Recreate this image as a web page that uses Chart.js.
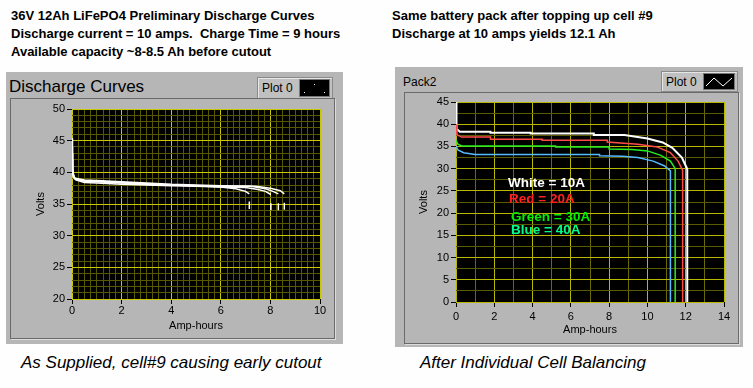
<!DOCTYPE html>
<html>
<head>
<meta charset="utf-8">
<script src="https://cdn.jsdelivr.net/npm/chart.js@4/dist/chart.umd.min.js"></script>
<style>
  body { margin: 0; background: #fdfefd; font-family: "Liberation Sans", Arial, sans-serif; }
  #page { position: relative; width: 753px; height: 388px; overflow: hidden; }
  .note { position: absolute; font-weight: bold; font-size: 13px; line-height: 18px; color: #000; white-space: nowrap; }
  .caption { position: absolute; font-style: italic; font-size: 17px; color: #000; white-space: nowrap; }
  .panel { position: absolute; background: #b6b6b6; }
  .frame { position: absolute; border: 1px solid #6a6a6a; box-shadow: 1px 1px 0 #dcdcdc; }
  .frame canvas { position: absolute; left: 0; top: 0; }
  .legend { position: absolute; background: #c0c0c0; border: 1px solid #8a8a8a; box-shadow: inset 1px 1px 0 #e6e6e6; font-size: 12px; }
  .legend span { position: absolute; left: 4px; top: 3px; }
  .swatch { position: absolute; background: #000; border: 1px solid #777; }
  .tag { position: absolute; font-weight: bold; font-size: 13.5px; white-space: nowrap; }
</style>
</head>
<body>
<div id="page">
  <div class="note" style="left:11px; top:7px;">36V 12Ah LiFePO4 Preliminary Discharge Curves<br>Discharge current = 10 amps.&nbsp; Charge Time = 9 hours<br>Available capacity ~8-8.5 Ah before cutout</div>
  <div class="note" style="left:392px; top:7px;">Same battery pack after topping up cell #9<br>Discharge at 10 amps yields 12.1 Ah</div>

  <!-- left panel -->
  <div class="panel" style="left:6px; top:72px; width:337px; height:272px;"></div>
  <div style="position:absolute; left:9px; top:77px; font-size:17px;">Discharge Curves</div>
  <div class="legend" style="left:257px; top:77px; width:74px; height:20px;">
    <span>Plot 0</span>
    <div class="swatch" style="left:41px; top:1px; width:29px; height:16px;">
      <svg width="29" height="16"><rect x="4" y="12" width="1" height="1" fill="#fff"/><rect x="14" y="4" width="1" height="1" fill="#fff"/><rect x="24" y="12" width="1" height="1" fill="#fff"/></svg>
    </div>
  </div>
  <div class="frame" style="left:10px; top:98px; width:323px; height:239px;">
    <canvas id="leftChart" width="323" height="239"></canvas>
  </div>

  <!-- right panel -->
  <div class="panel" style="left:395px; top:67px; width:348px; height:280px;"></div>
  <div style="position:absolute; left:403px; top:75px; font-size:12px;">Pack2</div>
  <div class="legend" style="left:661px; top:71px; width:75px; height:19px;">
    <span>Plot 0</span>
    <div class="swatch" style="left:41px; top:1px; width:30px; height:15px;">
      <svg width="30" height="15"><polyline points="2,12 10,4 19,12 28,4" fill="none" stroke="#fff" stroke-width="1"/></svg>
    </div>
  </div>
  <div class="frame" style="left:404px; top:92px; width:333px; height:250px;">
    <canvas id="rightChart" width="333" height="250"></canvas>
  </div>
  <div class="tag" style="left:508px; top:175px; color:#ffffff;">White = 10A</div>
  <div class="tag" style="left:509px; top:191px; color:#ff2020;">Red = 20A</div>
  <div class="tag" style="left:511px; top:209px; color:#00ee00;">Green = 30A</div>
  <div class="tag" style="left:511px; top:222px; color:#00ff88;">Blue = 40A</div>

  <div class="caption" style="left:21px; top:353px;">As Supplied, cell#9 causing early cutout</div>
  <div class="caption" style="left:420px; top:353px;">After Individual Cell Balancing</div>
</div>

<script>
// ---- left chart data (as supplied) ----
const runAh1 = [0, 0.02, 0.05, 0.15, 0.5, 1, 2, 3, 4, 5, 6, 6.6, 7, 7.15];
const runV1  = [45.4, 41, 39.5, 38.9, 38.6, 38.5, 38.3, 38.1, 38.0, 37.9, 37.7, 37.4, 37.0, 36.6];
const runAh2 = [0, 0.02, 0.05, 0.15, 0.5, 1, 2, 3, 4, 5, 6, 7, 7.5, 7.8, 8.02];
const runV2  = [44, 40.5, 39.3, 38.8, 38.4, 38.3, 38.1, 38.0, 37.9, 37.8, 37.7, 37.6, 37.3, 37.0, 36.5];
const runAh3 = [0, 0.03, 0.1, 0.5, 1, 2, 3, 4, 5, 6, 7.2, 7.8, 8.1, 8.32];
const runV3  = [42, 40, 39.0, 38.7, 38.6, 38.4, 38.2, 38.0, 37.9, 37.8, 37.8, 37.4, 37.0, 36.6];
const runAh4 = [0, 0.03, 0.1, 0.5, 1, 2, 3, 4, 5, 6, 7.4, 8, 8.4, 8.56];
const runV4  = [43, 40.2, 39.1, 38.8, 38.7, 38.5, 38.3, 38.1, 38.0, 37.9, 37.8, 37.5, 37.1, 36.6];
const cutAh     = [7.15, 8.02, 8.32, 8.56];
const cutTopV   = [35.4, 35.1, 35.1, 35.2];
const cutBottomV = [34.2, 34.0, 34.0, 34.1];

// ---- right chart data (after balancing) ----
const whiteAh = [0, 0, 0.05, 0.2, 1.8, 1.8, 3.9, 3.9, 7.2, 7.2, 8.8, 10, 10.8, 11.3, 11.8, 12.06, 12.08, 12.08];
const whiteV  = [45, 40, 39.0, 38.3, 38.3, 38.1, 38.1, 37.9, 37.9, 37.6, 37.6, 36.8, 35.9, 34.7, 32.5, 30.1, 29.8, 0];
const redAh = [0, 0.05, 0.3, 1.8, 1.8, 4.5, 4.5, 7.9, 7.9, 9.5, 10.5, 11.2, 11.6, 11.84, 11.84];
const redV  = [40, 37.6, 37.1, 37.1, 36.6, 36.6, 36.4, 36.4, 36.0, 35.5, 34.9, 33.6, 31.7, 29.6, 0];
const greenAh = [0, 0.1, 0.3, 5.2, 5.2, 8.0, 8.0, 9.2, 10, 10.7, 11.2, 11.45, 11.45];
const greenV  = [36.4, 35.5, 35.1, 35.1, 34.9, 34.9, 34.4, 34.3, 34.0, 33.0, 31.7, 30.0, 0];
const blueAh = [0, 0.1, 0.4, 1.0, 7.5, 7.5, 8.7, 9.5, 10.3, 10.9, 11.2, 11.2];
const blueV  = [35.1, 34.2, 33.6, 33.2, 33.2, 32.9, 32.8, 32.5, 31.7, 30.6, 29.5, 0];

const tickFont = { family: "Liberation Sans", size: 11 };

function pts(xs, ys) {
  return xs.map((x, i) => ({ x: x, y: ys[i] }));
}

// black plot background
const plotBg = {
  id: "plotBg",
  beforeDraw(chart) {
    const a = chart.chartArea;
    chart.ctx.save();
    chart.ctx.fillStyle = "#000";
    chart.ctx.fillRect(a.left, a.top, a.right - a.left, a.bottom - a.top);
    chart.ctx.restore();
  }
};

function axis(opts) {
  const isMajor = (v) => Math.abs(v / opts.major - Math.round(v / opts.major)) < 1e-6;
  return {
    type: "linear",
    position: opts.position,
    min: opts.min,
    max: opts.max,
    border: { display: false },
    grid: {
      color: (c) => isMajor(c.tick.value) ? opts.majorColor : opts.minorColor,
      tickColor: (c) => isMajor(c.tick.value) ? "#000" : "rgba(0,0,0,0)",
      tickLength: 5,
      lineWidth: 1
    },
    ticks: {
      stepSize: opts.step,
      autoSkip: false,
      maxRotation: 0,
      padding: opts.pad,
      color: "#000",
      font: tickFont,
      callback: (v) => isMajor(v) ? String(v) : ""
    },
    title: {
      display: true,
      text: opts.title,
      color: "#000",
      font: tickFont,
      padding: opts.titlePad
    },
    afterFit: (scale) => {
      if (opts.position === "left") scale.width = opts.size;
      else scale.height = opts.size;
    }
  };
}

// Left chart
const leftSets = [
  pts(runAh1, runV1), pts(runAh2, runV2), pts(runAh3, runV3), pts(runAh4, runV4)
].map((d) => ({ data: d, borderColor: "#fff", borderWidth: 1.5, pointRadius: 0, tension: 0 }));
cutAh.forEach((x, i) => {
  leftSets.push({ data: [{ x: x, y: cutTopV[i] }, { x: x, y: cutBottomV[i] }], borderColor: "#fff", borderWidth: 1.5, pointRadius: 0 });
});

new Chart(document.getElementById("leftChart"), {
  type: "line",
  data: { datasets: leftSets },
  options: {
    responsive: false,
    animation: false,
    layout: { padding: { top: 10, right: 14, left: 0, bottom: 0 } },
    plugins: { legend: { display: false }, tooltip: { enabled: false } },
    scales: {
      x: axis({ position: "bottom", min: 0, max: 10, step: 0.25, major: 2, majorColor: "#c8c800", minorColor: "#585800", pad: 0, title: "Amp-hours", titlePad: { top: 0, bottom: 5 }, size: 39 }),
      y: axis({ position: "left", min: 20, max: 50, step: 1, major: 5, majorColor: "#c8c800", minorColor: "#585800", pad: 2, title: "Volts", titlePad: { top: 23, bottom: 0 }, size: 61 })
    }
  },
  plugins: [plotBg]
});

// Right chart
const rightSets = [
  { data: pts(blueAh, blueV), borderColor: "#55bbff" },
  { data: pts(greenAh, greenV), borderColor: "#22ee22" },
  { data: pts(redAh, redV), borderColor: "#ff4a4a" },
  { data: pts(whiteAh, whiteV), borderColor: "#ffffff", borderWidth: 2 }
].map((d) => Object.assign({ borderWidth: 1.5, pointRadius: 0, tension: 0 }, d));

new Chart(document.getElementById("rightChart"), {
  type: "line",
  data: { datasets: rightSets },
  options: {
    responsive: false,
    animation: false,
    layout: { padding: { top: 9, right: 14, left: 0, bottom: 0 } },
    plugins: { legend: { display: false }, tooltip: { enabled: false } },
    scales: {
      x: axis({ position: "bottom", min: 0, max: 14, step: 1, major: 2, majorColor: "#b8b800", minorColor: "#6a6a00", pad: 3, title: "Amp-hours", titlePad: { top: 0, bottom: 6 }, size: 41 }),
      y: axis({ position: "left", min: 0, max: 45, step: 2.5, major: 5, majorColor: "#b8b800", minorColor: "#5a5a00", pad: 2, title: "Volts", titlePad: { top: 12, bottom: 0 }, size: 51 })
    }
  },
  plugins: [plotBg]
});
</script>
</body>
</html>
